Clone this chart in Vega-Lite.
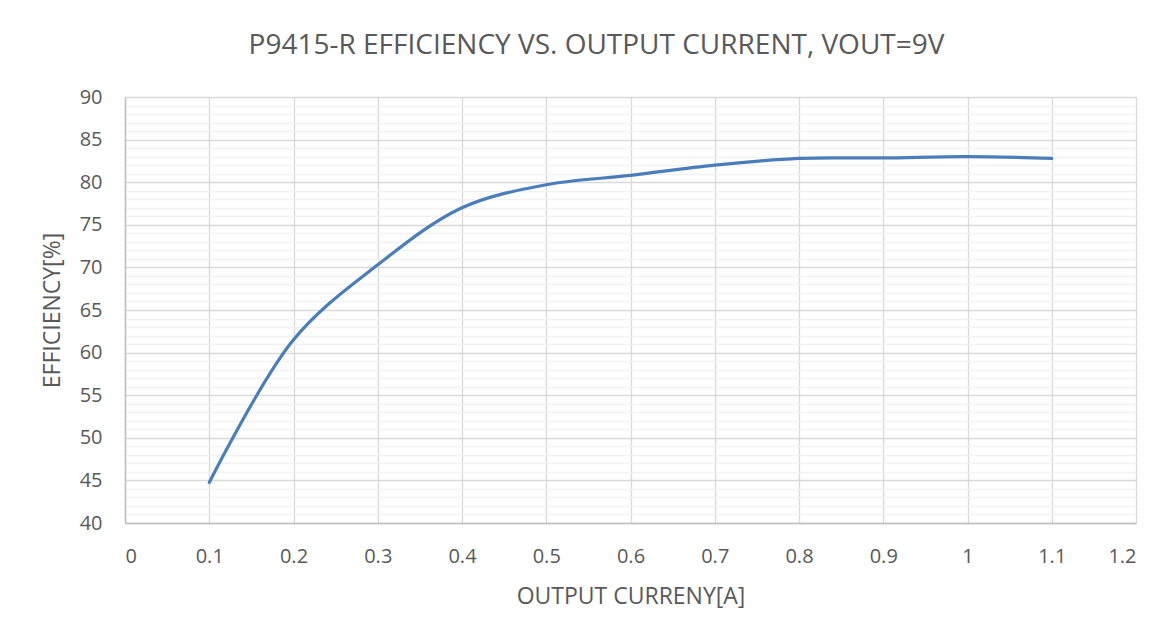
{
  "$schema": "https://vega.github.io/schema/vega-lite/v6.json",
  "width": 1011,
  "height": 426,
  "autosize": {"type": "none"},
  "padding": {"left": 125, "top": 97, "right": 38, "bottom": 117},
  "background": "white",
  "config": {
    "view": {"stroke": null},
    "font": "Open Sans"
  },
  "title": {
    "text": "P9415-R EFFICIENCY VS. OUTPUT CURRENT, VOUT=9V",
    "fontSize": 28,
    "fontWeight": "normal",
    "color": "#595959",
    "font": "Open Sans",
    "offset": 27,
    "dx": -34,
    "anchor": "middle"
  },
  "data": {
    "values": [
      {"current": 0.1, "efficiency": 44.76},
      {"current": 0.2, "efficiency": 61.5},
      {"current": 0.3, "efficiency": 70.3},
      {"current": 0.4, "efficiency": 77.0},
      {"current": 0.5, "efficiency": 79.7},
      {"current": 0.6, "efficiency": 80.8},
      {"current": 0.7, "efficiency": 82.0},
      {"current": 0.8, "efficiency": 82.8},
      {"current": 0.9, "efficiency": 82.85},
      {"current": 1.0, "efficiency": 83.0},
      {"current": 1.1, "efficiency": 82.8}
    ]
  },
  "resolve": {"axis": {"y": "independent", "x": "independent"}},
  "layer": [
    {
      "mark": {"type": "line", "opacity": 0},
      "encoding": {
        "x": {"field": "current", "type": "quantitative", "scale": {"domain": [0, 1.2], "nice": false},
          "axis": {"orient": "bottom", "labels": false, "ticks": false, "domain": false, "title": null, "grid": false}},
        "y": {"field": "efficiency", "type": "quantitative", "scale": {"domain": [40, 90], "nice": false, "zero": false},
          "axis": {"orient": "left", "values": [41,42,43,44,46,47,48,49,51,52,53,54,56,57,58,59,61,62,63,64,66,67,68,69,71,72,73,74,76,77,78,79,81,82,83,84,86,87,88,89],
            "labels": false, "ticks": false, "domain": false, "title": null, "grid": true, "gridColor": "#f2f2f2", "gridWidth": 1.3}}
      }
    },
    {
      "mark": {"type": "line", "interpolate": "catmull-rom", "color": "#4a7ebb", "strokeWidth": 3.2, "strokeCap": "round"},
      "encoding": {
        "x": {"field": "current", "type": "quantitative", "scale": {"domain": [0, 1.2], "nice": false},
          "axis": {"orient": "bottom", "values": [0,0.1,0.2,0.3,0.4,0.5,0.6,0.7,0.8,0.9,1,1.1,1.2], "format": ".1~f",
            "title": "OUTPUT CURRENY[A]", "titleFontSize": 23, "titleFontWeight": "normal", "titleColor": "#595959", "titlePadding": 19,
            "labelFontSize": 20, "labelColor": "#595959", "labelPadding": 23, "ticks": false,
            "grid": true, "gridColor": "#d9d9d9", "gridWidth": 1.3, "domainColor": "#bfbfbf", "domainWidth": 1.5}},
        "y": {"field": "efficiency", "type": "quantitative", "scale": {"domain": [40, 90], "nice": false, "zero": false},
          "axis": {"orient": "left", "values": [40,45,50,55,60,65,70,75,80,85,90],
            "title": "EFFICIENCY[%]", "titleFontSize": 23, "titleFontWeight": "normal", "titleColor": "#595959", "titlePadding": 15,
            "labelFontSize": 20, "labelColor": "#595959", "labelPadding": 23, "ticks": false,
            "grid": true, "gridColor": "#d9d9d9", "gridWidth": 1.3, "domainColor": "#bfbfbf", "domainWidth": 1.5}}
      }
    }
  ]
}
